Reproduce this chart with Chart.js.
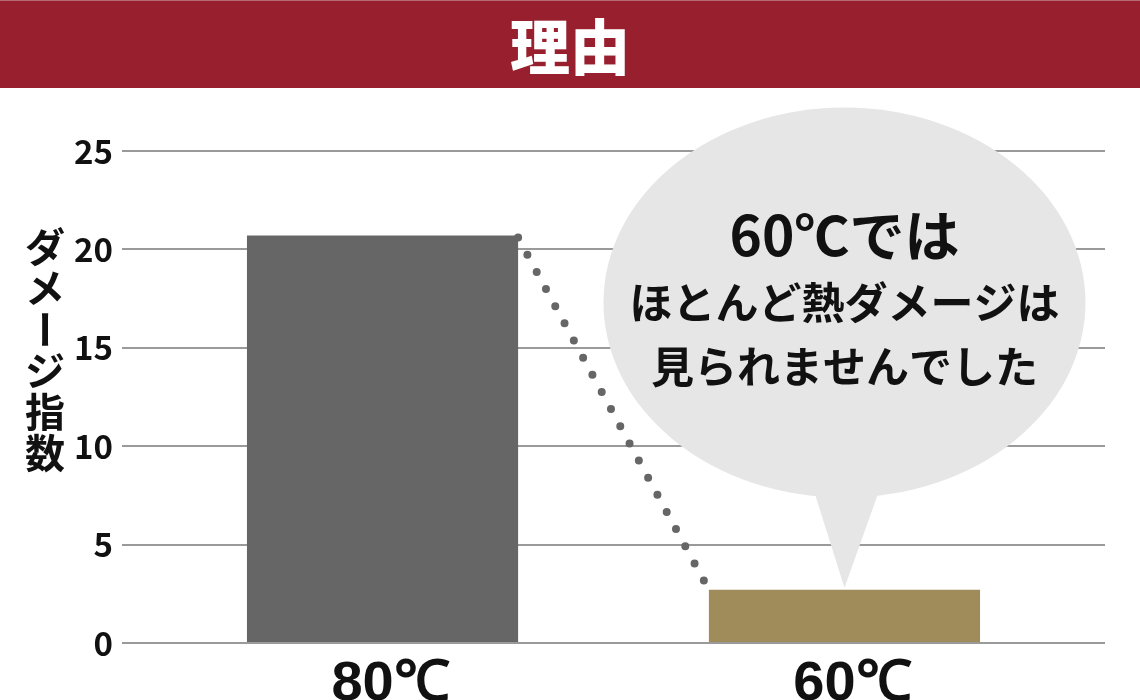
<!DOCTYPE html>
<html>
<head>
<meta charset="utf-8">
<script src="https://cdn.jsdelivr.net/npm/chart.js@4.4.1/dist/chart.umd.min.js"></script>
<style>
  html, body { margin: 0; padding: 0; background: #fff; }
  body { width: 1140px; height: 700px; position: relative; overflow: hidden; }
  #band {
    position: absolute; left: 0; top: 0; width: 1140px; height: 88px;
    background: #981f2e; border-top: 1px solid #b86a72; box-sizing: border-box;
    color: #fff; font: 900 60px "Noto Sans CJK JP", sans-serif;
    text-align: center; line-height: 86px;
  }
  #wrap { position: absolute; left: 0; top: 0; width: 1140px; height: 700px; }
</style>
</head>
<body>
<div id="wrap"><canvas id="myChart" width="1140" height="700"></canvas></div>
<div id="band">理由</div>
<script>
const categories = ['80℃', '60℃']
const damage = [20.7, 2.7]
const barColors = ['#666666', '#a08b5a']
const yTicks = [0, 5, 10, 15, 20, 25]
const yTitle = 'ダメージ指数'
const bubbleLines = ['60℃では', 'ほとんど熱ダメージは', '見られませんでした']

const jp = '"Noto Sans CJK JP", sans-serif'

// dotted line from top of first bar to top of second bar
const dotLine = {
  id: 'dotLine',
  afterDatasetsDraw(chart) {
    const bars = chart.getDatasetMeta(0).data
    const a = bars[0], b = bars[1]
    const ctx = chart.ctx
    ctx.save()
    ctx.strokeStyle = '#666666'
    ctx.lineWidth = 8
    ctx.lineCap = 'round'
    ctx.setLineDash([0, 19.5])
    ctx.beginPath()
    ctx.moveTo(a.x + a.width / 2, a.y + 2)
    ctx.lineTo(b.x - b.width / 2, b.y)
    ctx.stroke()
    ctx.restore()
  }
}

// speech bubble over the 60℃ bar
const bubble = {
  id: 'bubble',
  afterDraw(chart) {
    const bar = chart.getDatasetMeta(0).data[1]
    const ctx = chart.ctx
    const cx = bar.x, cy = chart.scales.y.getPixelForValue(17.3)
    ctx.save()
    ctx.fillStyle = '#e6e6e6'
    ctx.beginPath()
    ctx.ellipse(cx, cy, 241, 195, 0, 0, Math.PI * 2)
    ctx.fill()
    ctx.beginPath()
    ctx.moveTo(cx - 30, cy + 190)
    ctx.lineTo(cx + 34, cy + 190)
    ctx.lineTo(cx, bar.y - 2)
    ctx.closePath()
    ctx.fill()
    ctx.fillStyle = '#111'
    ctx.textAlign = 'center'
    ctx.textBaseline = 'middle'
    ctx.font = 'bold 55px ' + jp
    ctx.fillText(bubbleLines[0], cx, cy - 67)
    ctx.font = 'bold 43px ' + jp
    ctx.fillText(bubbleLines[1], cx, cy)
    ctx.fillText(bubbleLines[2], cx, cy + 64)
    ctx.restore()
  }
}

// vertical axis title, one character per row
const vTitle = {
  id: 'vTitle',
  afterDraw(chart) {
    const ctx = chart.ctx
    ctx.save()
    ctx.fillStyle = '#111'
    ctx.font = 'bold 40px ' + jp
    ctx.textAlign = 'center'
    ctx.textBaseline = 'middle'
    Array.from(yTitle).forEach((ch, i) => {
      const y = 247 + i * 41.2
      if (ch === 'ー') {
        ctx.save()
        ctx.translate(45, y)
        ctx.rotate(Math.PI / 2)
        ctx.fillText(ch, 0, 0)
        ctx.restore()
      } else {
        ctx.fillText(ch, 45, y)
      }
    })
    ctx.restore()
  }
}

const ctx = document.getElementById('myChart').getContext('2d')
new Chart(ctx, {
  type: 'bar',
  data: {
    datasets: [{
      data: damage.map((v, i) => ({ x: i, y: v })),
      backgroundColor: barColors,
      borderWidth: 0,
      barPercentage: 0.587,
      categoryPercentage: 1
    }]
  },
  options: {
    responsive: false,
    animation: false,
    devicePixelRatio: 1,
    layout: { padding: { top: 151, right: 35, left: 0, bottom: 0 } },
    plugins: { legend: { display: false }, tooltip: { enabled: false } },
    scales: {
      x: {
        type: 'linear',
        offset: false,
        min: -0.564,
        max: 1.564,
        grid: { display: false },
        border: { display: false },
        afterBuildTicks(scale) { scale.ticks = categories.map((c, i) => ({ value: i })) },
        afterFit(scale) { scale.height = 57 },
        ticks: {
          autoSkip: false,
          padding: 0,
          labelOffset: 8,
          color: '#111',
          font: { family: '"Liberation Sans", sans-serif', size: 56, weight: 'bold' },
          callback: (v) => categories[v]
        }
      },
      y: {
        min: 0,
        max: 25,
        afterBuildTicks(scale) { scale.ticks = yTicks.map(v => ({ value: v })) },
        afterFit(scale) { scale.width = 122 },
        grid: { color: '#9a9a9a', lineWidth: 2, drawTicks: false },
        border: { display: false },
        ticks: {
          padding: 9,
          color: '#111',
          font: { family: jp, size: 33, weight: 'bold' }
        }
      }
    }
  },
  plugins: [dotLine, bubble, vTitle]
})
</script>
</body>
</html>
